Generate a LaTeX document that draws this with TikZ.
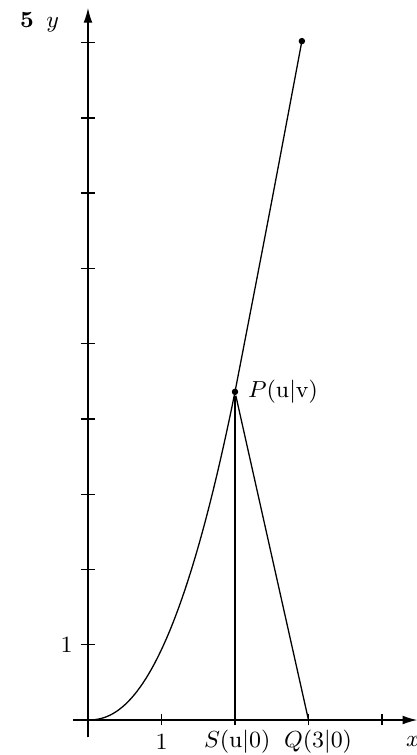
\documentclass[tikz,border=0pt]{standalone}
\usepackage{amsmath,amssymb}
\usepackage{tikz}
\usetikzlibrary{positioning,arrows.meta}

\begin{document}
\begin{tikzpicture}[x=1cm,y=1.024cm,line width=0.5pt,every node/.style={font=\small},
  axis/.style={-{Latex[length=2mm,width=1.2mm]}},
  dot/.style={circle,fill,inner sep=0pt,minimum size=2.5pt}]
 \useasboundingbox (-1.197cm,-0.476cm) rectangle (4.476cm,9.796cm);
 % axes
 \coordinate (xa) at (-0.2,0); \coordinate (xb) at (4.48,0);
 \coordinate (ya) at (0,-0.23); \coordinate (yb) at (0,9.46);
 \draw[axis] (xa) -- (xb); \draw[axis] (ya) -- (yb);
 \foreach \i in {1,...,9} \draw (-0.1,\i) -- (0.1,\i);
 \foreach \i in {1,...,4} \draw (\i,-0.07) -- (\i,0.08);
 \node (fig) at (-0.83,9.3) {\bfseries 5};
 \node (ylab) at (-0.48,9.24) {$y$};
 \node (xlab) at (4.42,-0.29) {$x$};
 \node (one) at (-0.29,1) {1};
 \node (xone) at (1,-0.29) {1};
 % curve and points
 \coordinate (O) at (0,0);
 \node[dot] (P) at (2,4.36) {};
 \node[dot] (T) at (2.91,9.02) {};
 \coordinate (S) at (2,0); \coordinate (Q) at (3,0);
 \draw (O) -- plot[domain=0.02:2,samples=50] (\x,{0.936*pow(\x,2.22)});
 \draw plot[smooth,tension=0.6] coordinates {(P) (2.47,6.74) (T)};
 \draw (P) -- (S); \draw (P) -- (Q);
 \node[right=0mm of P] (Plab) {$P$(u$|$v)};
 \node (Slab) at (2.03,-0.29) {$S$(u$|$0)};
 \node (Qlab) at (3.13,-0.29) {$Q$(3$|$0)};
\end{tikzpicture}
\end{document}
